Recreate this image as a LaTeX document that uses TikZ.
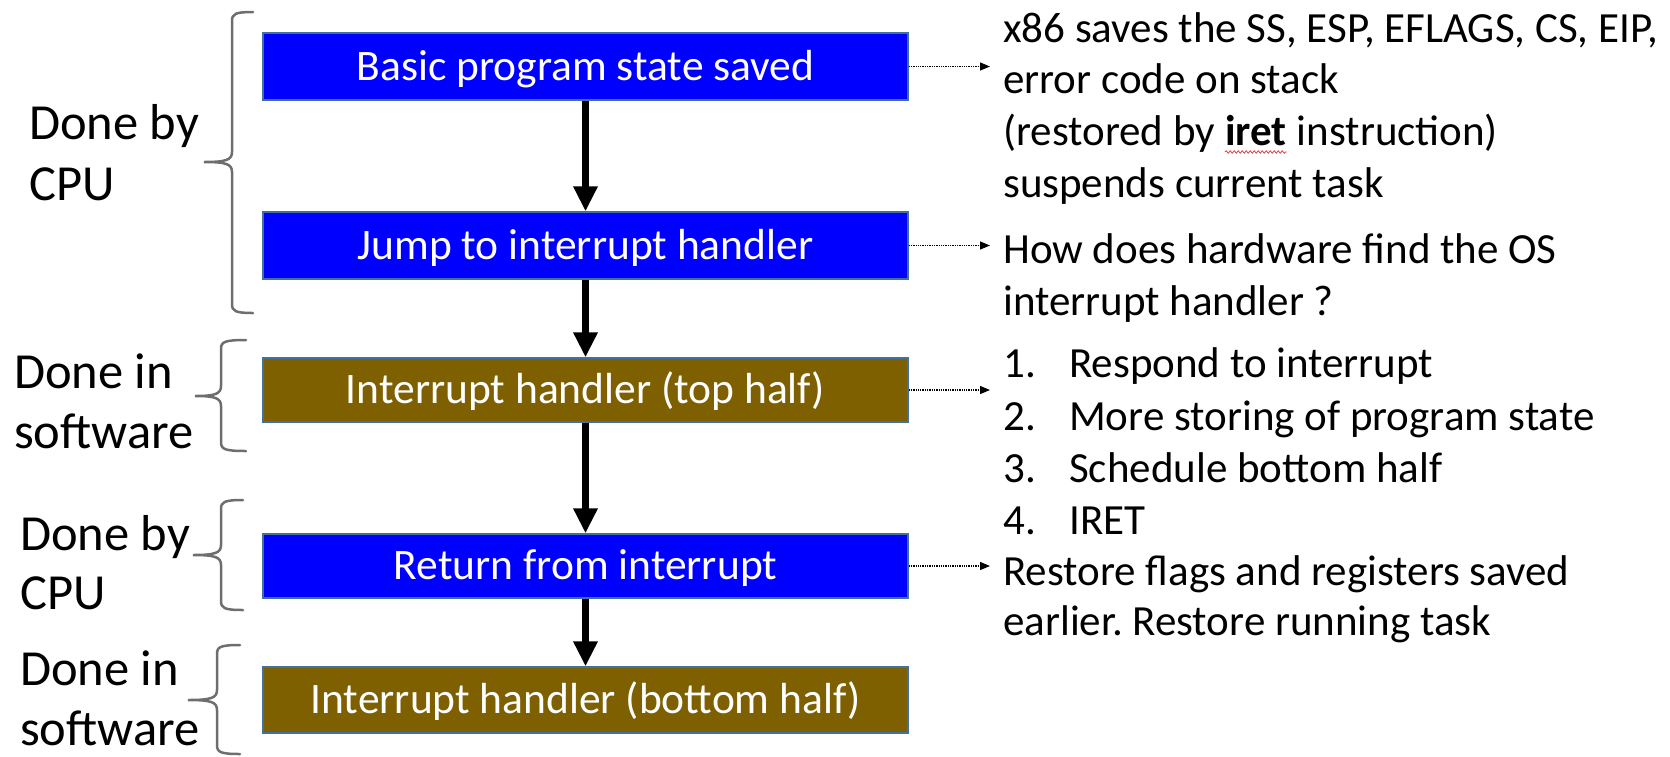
\documentclass[tikz,border=0pt]{standalone}
\usepackage{fontspec}
\setmainfont{Carlito}
\usetikzlibrary{arrows.meta,decorations.pathmorphing}
\definecolor{boxblue}{HTML}{0000FF}
\definecolor{boxbrown}{HTML}{7F6000}
\definecolor{boxline}{HTML}{41719C}
\definecolor{bracegray}{HTML}{6E6E6E}
\definecolor{squig}{HTML}{E05050}
\frenchspacing
\tikzset{
  stepbox/.style={minimum width=645pt, inner sep=0pt, draw=boxline, line width=1.3pt,
    text=white, font=\fontsize{43.5}{52}\selectfont, text height=35pt, text depth=8pt},
  cpubox/.style={stepbox, fill=boxblue},
  swbox/.style={stepbox, fill=boxbrown},
  flow/.style={line width=7pt, -{Triangle[width=23pt,length=25pt]}},
  notearrow/.style={densely dotted, line width=1.3pt, -{Triangle[width=8pt,length=10pt]}},
  bracestyle/.style={draw=bracegray, line width=2.5pt, line cap=round},
  sidelabel/.style={anchor=base west, inner sep=0pt, font=\fontsize{50.5}{60}\selectfont},
  notetext/.style={anchor=base west, inner sep=0pt, font=\fontsize{43}{52}\selectfont},
}
\newcommand{\leftbrace}[6]{% xe xv xt yt ym yb
  \draw[bracestyle] (#1,#4) .. controls (#2+3,#4) and (#2,#4+2) .. (#2,#4+9)
    -- (#2,#5-10) .. controls (#2,#5-2) and (#2-6,#5) .. (#3,#5)
    .. controls (#2-6,#5) and (#2,#5+2) .. (#2,#5+10)
    -- (#2,#6-9) .. controls (#2,#6-2) and (#2+3,#6) .. (#1,#6);}
\begin{document}
\begin{tikzpicture}[x=1pt,y=-1pt]
\useasboundingbox (0,0) rectangle (1670,756);

% boxes
\node[cpubox, minimum height=67pt] (b1) at (585.5,66.5) {Basic program state saved};
\node[cpubox, minimum height=67pt] (b2) at (585.5,245.5) {Jump to interrupt handler};
\node[swbox, minimum height=64pt] (b3) at (585.5,390) {Interrupt handler (top half)};
\node[cpubox, minimum height=64pt] (b4) at (585.5,566) {Return from interrupt};
\node[swbox, minimum height=66pt] (b5) at (585.5,700) {Interrupt handler (bottom half)};

% flow arrows
\draw[flow] (b1.south) -- (b2.north);
\draw[flow] (b2.south) -- (b3.north);
\draw[flow] (b3.south) -- (b4.north);
\draw[flow] (b4.south) -- (b5.north);

% braces
\leftbrace{253}{232}{204}{12}{162}{313}
\leftbrace{246}{221}{195}{340}{396}{451}
\leftbrace{243}{221}{193}{500}{555}{610}
\leftbrace{240}{217}{188}{645}{700}{754}

% side labels
\node[sidelabel] (s1a) at (29,139) {Done by};
\node[sidelabel] (s1b) at (29,200) {CPU};
\node[sidelabel] (s2a) at (14,388) {Done in};
\node[sidelabel] (s2b) at (14,448) {software};
\node[sidelabel] (s3a) at (20,550) {Done by};
\node[sidelabel] (s3b) at (20,609) {CPU};
\node[sidelabel] (s4a) at (20,685) {Done in};
\node[sidelabel] (s4b) at (20,745) {software};

% note arrows
\coordinate (e1) at (990,66.5);
\coordinate (e2) at (990,245.5);
\coordinate (e3) at (990,390);
\coordinate (e4) at (990,566);
\draw[notearrow] (b1.east) -- (e1);
\draw[notearrow] (b2.east) -- (e2);
\draw[notearrow] (b3.east) -- (e3);
\draw[notearrow] (b4.east) -- (e4);

% notes
\node[notetext] (n1) at (1003,42) {x86 saves the SS, ESP, EFLAGS, CS, EIP,};
\node[notetext] (n2) at (1003,93) {error code on stack};
\node[notetext] (n3a) at (1003,145) {(restored by};
\node[notetext] (n3b) at ([xshift=9.7pt]n3a.base east) {\textbf{iret}};
\node[notetext] (n3c) at ([xshift=9.7pt]n3b.base east) {instruction)};
\draw[squig, line width=0.9pt, decorate, decoration={snake, amplitude=1.2pt, segment length=4pt}]
  ([yshift=-7pt]n3b.base west) -- ([yshift=-7pt]n3b.base east);
\node[notetext] (n4) at (1003,197) {suspends current task};
\node[notetext] (n5) at (1003,263) {How does hardware find the OS};
\node[notetext] (n6) at (1003,315) {interrupt handler ?};

\node[notetext] (m1n) at (1003,377) {1.};
\node[notetext] (m1) at (1069,377) {Respond to interrupt};
\node[notetext] (m2n) at (1003,430) {2.};
\node[notetext] (m2) at (1069,430) {More storing of program state};
\node[notetext] (m3n) at (1003,482) {3.};
\node[notetext] (m3) at (1069,482) {Schedule bottom half};
\node[notetext] (m4n) at (1003,534) {4.};
\node[notetext] (m4) at (1069,534) {IRET};

\node[notetext] (r1) at (1003,585) {Restore flags and registers saved};
\node[notetext] (r2) at (1003,635) {earlier. Restore running task};
\end{tikzpicture}
\end{document}
